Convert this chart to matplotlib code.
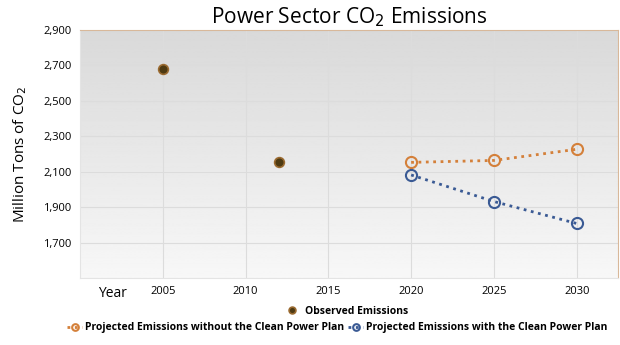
import numpy as np
import matplotlib.pyplot as plt
from matplotlib.ticker import FuncFormatter

plt.rcParams['font.family'] = ['Open Sans', 'DejaVu Sans']

obs_years = [2005, 2012]
obs_vals = [2682, 2153]
proj_years = [2020, 2025, 2030]
without_cpp = [2153, 2164, 2227]
with_cpp = [2082, 1932, 1808]
x_ticks = [2005, 2010, 2015, 2020, 2025, 2030]
y_ticks = [1700, 1900, 2100, 2300, 2500, 2700, 2900]

orange = '#d4803a'
blue = '#3a5a94'

fig = plt.figure(figsize=(6.2, 3.45), dpi=100)
ax = fig.add_axes([0.129, 0.194, 0.868, 0.719])

xmin, xmax, ymin, ymax = 2000, 2032.5, 1500, 2900
grad = np.linspace(0.85, 0.97, 256).reshape(-1, 1)
ax.imshow(grad, extent=[xmin, xmax, ymin, ymax], origin='upper', aspect='auto',
          cmap='gray', vmin=0, vmax=1, zorder=0)

ax.plot(obs_years, obs_vals, 'o', ms=7, mfc='#4e3a12', mec='#9a6a30', mew=1.2,
        ls='none', label='Observed Emissions', zorder=4)
l1, = ax.plot(proj_years, without_cpp, ':', color=orange, lw=2, marker='o', ms=8,
              mfc='none', mec=orange, mew=1.5,
              label='Projected Emissions without the Clean Power Plan', zorder=3)
l2, = ax.plot(proj_years, with_cpp, ':', color=blue, lw=2, marker='o', ms=8,
              mfc='none', mec=blue, mew=1.5,
              label='Projected Emissions with the Clean Power Plan', zorder=3)

ax.set_xlim(xmin, xmax)
ax.set_ylim(ymin, ymax)
ax.set_xticks(x_ticks)
ax.set_yticks(y_ticks)
ax.yaxis.set_major_formatter(FuncFormatter(lambda v, p: f'{int(v):,}'))
ax.grid(True, color='#dcdcdc', lw=0.8, zorder=1)
ax.set_axisbelow(True)
ax.tick_params(length=0, labelsize=8, pad=6)
for s in ['left', 'bottom']:
    ax.spines[s].set_color('#e4e4e4')
for s in ['top', 'right']:
    ax.spines[s].set_color('#d8b89a')

ax.set_title('Power Sector CO$_2$ Emissions', fontsize=15, pad=5)
ax.set_ylabel('Million Tons of CO$_2$', fontsize=11, labelpad=10)
fig.text(0.181, 0.15, 'Year', fontsize=10, ha='center', va='center')

obs_handle = ax.lines[0]
leg1 = fig.legend([obs_handle], ['Observed Emissions'], loc='center',
                  bbox_to_anchor=(0.556, 0.098), frameon=False,
                  prop={'weight': 'bold', 'size': 7.5}, handletextpad=0.3,
                  markerscale=0.7)
leg2 = fig.legend([l1, l2], [l1.get_label(), l2.get_label()], loc='center',
                  bbox_to_anchor=(0.544, 0.05), ncol=2, frameon=False,
                  prop={'weight': 'bold', 'size': 7.5}, handlelength=1.4,
                  handletextpad=0.3, columnspacing=0.4, markerscale=0.6)

fig.savefig('out.png', dpi=100)
